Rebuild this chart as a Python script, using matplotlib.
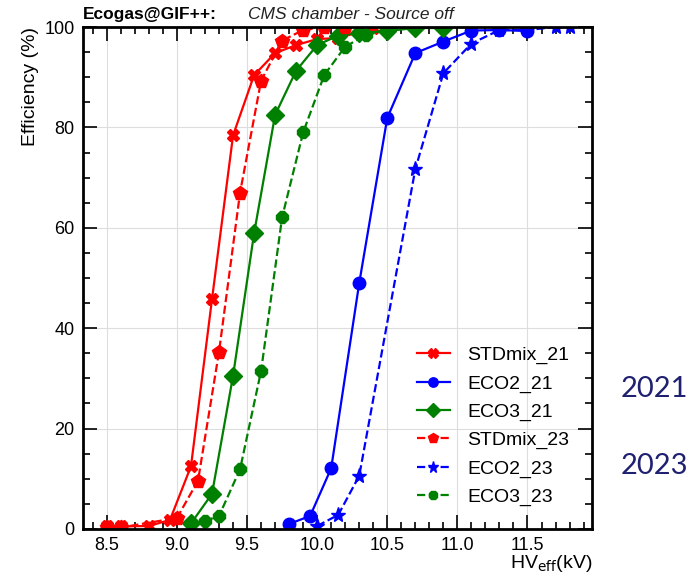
import matplotlib.pyplot as plt
from matplotlib.ticker import MultipleLocator

plt.rcParams['font.family'] = ['Liberation Sans', 'DejaVu Sans']

# HV_eff (kV) and efficiency (%)
hv_std21 = [8.5, 8.6, 8.8, 8.95, 9.1, 9.25, 9.4, 9.55, 9.7, 9.85, 10.0, 10.15, 10.4]
eff_std21 = [0.5, 0.5, 0.6, 1.8, 12.5, 45.8, 78.4, 90.4, 94.8, 96.4, 97.6, 97.8, 99.8]

hv_eco2_21 = [9.8, 9.95, 10.1, 10.3, 10.5, 10.7, 10.9, 11.1, 11.3, 11.5]
eff_eco2_21 = [1.0, 2.6, 12.1, 49.0, 81.9, 94.8, 97.1, 99.3, 99.4, 99.2]

hv_eco3_21 = [9.1, 9.25, 9.4, 9.55, 9.7, 9.85, 10.0, 10.15, 10.3, 10.5, 10.7, 10.9]
eff_eco3_21 = [1.1, 7.0, 30.5, 58.9, 82.5, 91.3, 96.4, 98.3, 98.8, 99.2, 99.8, 99.8]

hv_std23 = [8.5, 8.6, 9.0, 9.15, 9.3, 9.45, 9.6, 9.75, 9.9, 10.05, 10.2]
eff_std23 = [0.3, 0.3, 2.2, 9.6, 35.3, 67.0, 89.3, 97.3, 99.4, 100.0, 100.0]

hv_eco2_23 = [10.0, 10.15, 10.3, 10.7, 10.9, 11.1, 11.3, 11.5, 11.7, 11.8]
eff_eco2_23 = [0.6, 2.8, 10.6, 71.7, 90.8, 96.7, 99.4, 99.4, 100.0, 100.0]

hv_eco3_23 = [9.2, 9.3, 9.45, 9.6, 9.75, 9.9, 10.05, 10.2, 10.35, 10.5, 10.7, 10.9]
eff_eco3_23 = [1.6, 2.6, 11.9, 31.5, 62.1, 79.0, 90.4, 96.1, 98.4, 99.4, 100.0, 100.0]

fig = plt.figure(figsize=(7, 5.77), dpi=100)
ax = fig.add_axes([0.1186, 0.0832, 0.7271, 0.87])

ax.plot(hv_std21, eff_std21, '-', color='#ff0000', marker='X', ms=9, lw=1.6, label='STDmix_21')
ax.plot(hv_eco2_21, eff_eco2_21, '-', color='#0000ff', marker='o', ms=9, lw=1.6, label='ECO2_21')
ax.plot(hv_eco3_21, eff_eco3_21, '-', color='#008000', marker='D', ms=9, lw=1.6, label='ECO3_21')
ax.plot(hv_std23, eff_std23, '--', color='#ff0000', marker='p', ms=10, lw=1.6, label='STDmix_23')
ax.plot(hv_eco2_23, eff_eco2_23, '--', color='#0000ff', marker='*', ms=11, lw=1.6, label='ECO2_23')
ax.plot(hv_eco3_23, eff_eco3_23, '--', color='#008000', marker='8', ms=9, lw=1.6, label='ECO3_23')

ax.set_xlim(8.33, 11.96)
ax.set_ylim(0, 100)
ax.xaxis.set_major_locator(MultipleLocator(0.5))
ax.xaxis.set_minor_locator(MultipleLocator(0.1))
ax.yaxis.set_major_locator(MultipleLocator(20))
ax.yaxis.set_minor_locator(MultipleLocator(5))
ax.tick_params(which='both', direction='in', top=True, right=True, labelsize=13, width=1.2)
ax.tick_params(which='major', length=10, pad=6)
ax.tick_params(which='minor', length=5)
ax.grid(True, which='major', color='#dddddd', lw=0.8)
for s in ax.spines.values():
    s.set_linewidth(2)

ax.set_xlabel('HV$_{\\mathrm{eff}}$(kV)', fontsize=14, ha='right', va='top')
ax.xaxis.set_label_coords(1.0, -0.048)
ax.set_ylabel('Efficiency (%)', fontsize=14, loc='top')

ax.legend(loc='lower right', bbox_to_anchor=(0.99, 0.01), frameon=False, fontsize=14,
          handlelength=1.7, handletextpad=0.9, labelspacing=0.55, markerscale=0.75)

fig.text(0.1186, 0.962, 'Ecogas@GIF++:', fontsize=12.5, fontweight='bold', va='bottom')
fig.text(0.355, 0.962, 'CMS chamber - Source off', fontsize=12.5, style='italic',
         color='#222222', va='bottom')

fig.text(0.935, 0.325, '2021', fontsize=21, color='#1f2070', family='Lato', ha='center', va='center')
fig.text(0.935, 0.193, '2023', fontsize=21, color='#1f2070', family='Lato', ha='center', va='center')

fig.savefig('out.png', dpi=100)
